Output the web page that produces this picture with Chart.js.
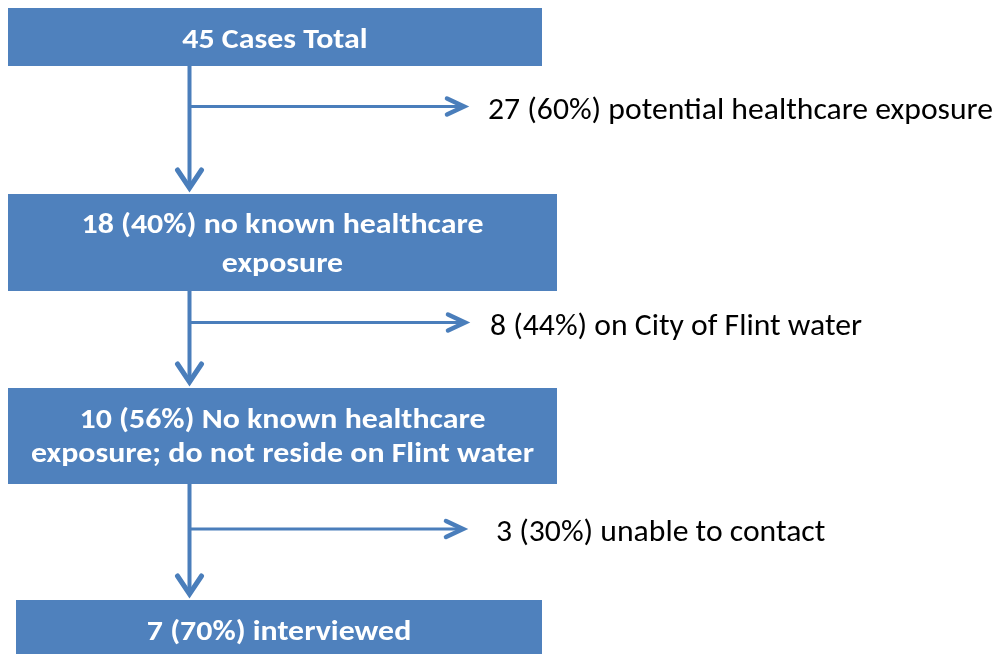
<!DOCTYPE html>
<html>
<head>
<meta charset="utf-8">
<script src="https://cdn.jsdelivr.net/npm/chart.js@4.4.1/dist/chart.umd.min.js"></script>
<style>
  html, body { margin: 0; padding: 0; background: #ffffff; }
  #wrap { width: 1001px; height: 654px; }
</style>
</head>
<body>
<div id="wrap"><canvas id="c" width="1001" height="654"></canvas></div>
<script>
// ---------- data ----------
const stageCounts = [45, 18, 10, 7];
const stagePct    = [null, 40, 56, 70];
const stageHead   = ["Cases Total", "no known healthcare", "No known healthcare", "interviewed"];
const stageTail   = [null, "exposure", "exposure; do not reside on Flint water", null];

const exitCounts = [27, 8, 3];
const exitPct    = [60, 44, 30];
const exitText   = ["potential healthcare exposure", "on City of Flint water", "unable to contact"];

// ---------- layout (pixel-space axes 0..1001 x 0..654) ----------
const boxLeft   = [8, 8, 8, 16];
const boxRight  = [542, 557, 557, 542];
const boxTop    = [8, 194, 388, 600];
const boxBottom = [66, 291, 484, 654];
const lineBase  = [[48], [233, 272], [428, 462], [640]];
const spineX    = 189.5;
const spineStart = [66, 253, 470];
const branchY   = [106.5, 322.5, 529];
const branchTip = [468, 469, 467];
const branchTextX = [488, 490, 496];

const BOX = '#4F81BD';
const ARROW = '#4A7EBB';

function stageLines(i) {
  const pct = stagePct[i] == null ? '' : ' (' + stagePct[i] + '%)';
  const l = [stageCounts[i] + pct + ' ' + stageHead[i]];
  if (stageTail[i]) l.push(stageTail[i]);
  return l;
}
function exitLabel(i) {
  return exitCounts[i] + ' (' + exitPct[i] + '%) ' + exitText[i];
}

const datasets = [];
// boxes
for (let i = 0; i < stageCounts.length; i++) {
  datasets.push({
    data: [{x: boxLeft[i], y: boxTop[i]}, {x: boxRight[i], y: boxTop[i]}],
    fill: {value: boxBottom[i]},
    backgroundColor: BOX, borderColor: 'rgba(0,0,0,0)', borderWidth: 0,
    pointRadius: 0, tension: 0
  });
}
// spines (vertical shafts) + heads
for (let i = 0; i < 3; i++) {
  const tip = boxTop[i + 1] - 1;
  datasets.push({
    data: [{x: spineX, y: spineStart[i]}, {x: spineX, y: tip - 4}],
    borderColor: ARROW, borderWidth: 4, pointRadius: 0, fill: false, tension: 0,
    borderCapStyle: 'butt'
  });
  datasets.push({
    data: [{x: spineX - 12, y: tip - 23}, {x: spineX, y: tip - 5}, {x: spineX + 12, y: tip - 23}],
    borderColor: ARROW, borderWidth: 5, pointRadius: 0, fill: false, tension: 0,
    borderCapStyle: 'round', borderJoinStyle: 'miter'
  });
}
// branches + heads
for (let i = 0; i < 3; i++) {
  const tip = branchTip[i];
  datasets.push({
    data: [{x: spineX, y: branchY[i]}, {x: tip - 3, y: branchY[i]}],
    borderColor: ARROW, borderWidth: 3, pointRadius: 0, fill: false, tension: 0,
    borderCapStyle: 'butt'
  });
  datasets.push({
    data: [{x: tip - 21, y: branchY[i] - 8}, {x: tip - 4, y: branchY[i]}, {x: tip - 21, y: branchY[i] + 8}],
    borderColor: ARROW, borderWidth: 4.5, pointRadius: 0, fill: false, tension: 0,
    borderCapStyle: 'round', borderJoinStyle: 'miter'
  });
}

const FAMILY = '"Carlito", "Lato", "Open Sans", sans-serif';
const textPlugin = {
  id: 'flowText',
  afterDatasetsDraw(chart) {
    const ctx = chart.ctx;
    const xs = chart.scales.x, ys = chart.scales.y;
    ctx.save();
    // box text (bold white)
    ctx.font = 'bold 29px ' + FAMILY;
    const bScale = 503 / ctx.measureText(stageLines(2)[1]).width;
    ctx.fillStyle = '#ffffff';
    ctx.textBaseline = 'alphabetic';
    ctx.textAlign = 'center';
    for (let i = 0; i < stageCounts.length; i++) {
      const cx = xs.getPixelForValue((boxLeft[i] + boxRight[i]) / 2);
      const lines = stageLines(i);
      lines.forEach((t, j) => {
        const by = ys.getPixelForValue(lineBase[i][j]);
        ctx.save();
        ctx.translate(cx, by);
        ctx.scale(bScale, 1);
        ctx.fillText(t, 0, 0);
        ctx.restore();
      });
    }
    // exit text (regular black)
    ctx.font = '30px ' + FAMILY;
    const nScale = 505 / ctx.measureText(exitLabel(0)).width;
    ctx.fillStyle = '#000000';
    ctx.textAlign = 'left';
    for (let i = 0; i < exitCounts.length; i++) {
      const x = xs.getPixelForValue(branchTextX[i]);
      const y = ys.getPixelForValue(branchY[i] + 12);
      ctx.save();
      ctx.translate(x, y);
      ctx.scale(nScale, 1);
      ctx.fillText(exitLabel(i), 0, 0);
      ctx.restore();
    }
    ctx.restore();
  }
};

new Chart(document.getElementById('c'), {
  type: 'line',
  data: { datasets },
  options: {
    responsive: false,
    animation: false,
    events: [],
    layout: { padding: 0 },
    plugins: { legend: { display: false }, tooltip: { enabled: false } },
    scales: {
      x: { type: 'linear', min: 0, max: 1001, display: false },
      y: { type: 'linear', min: 0, max: 654, reverse: true, display: false }
    },
    elements: { line: { tension: 0 } }
  },
  plugins: [textPlugin]
});
</script>
</body>
</html>
